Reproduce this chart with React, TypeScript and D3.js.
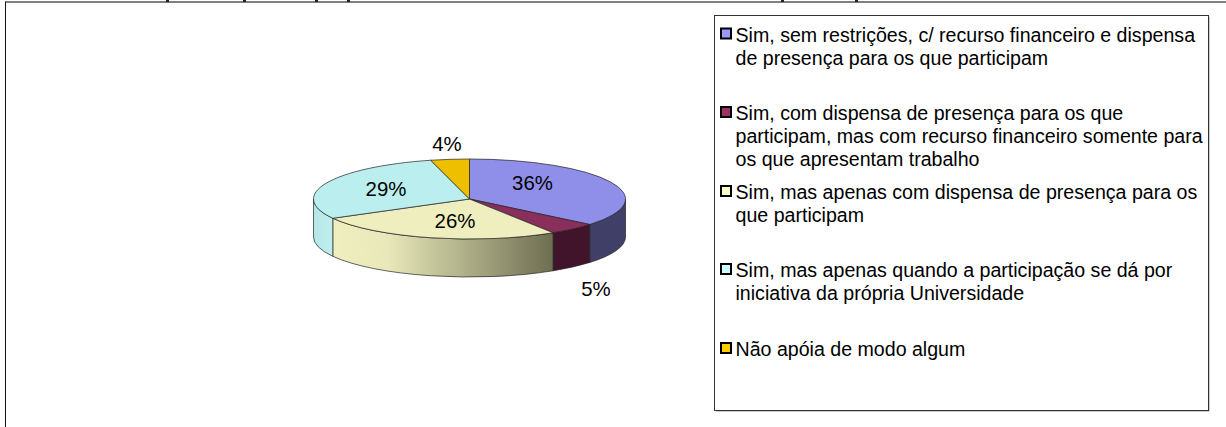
import React from 'react';
import * as d3 from 'd3';

const width = 1226;
const height = 427;

const categories = [
  'Sim, sem restrições, c/ recurso financeiro e dispensa de presença para os que participam',
  'Sim, com dispensa de presença para os que participam, mas com recurso financeiro somente para os que apresentam trabalho',
  'Sim, mas apenas com dispensa de presença para os que participam',
  'Sim, mas apenas quando a participação se dá por iniciativa da própria Universidade',
  'Não apóia de modo algum',
];
const values = [36, 5, 26, 29, 4];
const labels = ['36%', '5%', '26%', '29%', '4%'];
const legendLines = [
  ['Sim, sem restrições, c/ recurso financeiro e dispensa', 'de presença para os que participam'],
  ['Sim, com dispensa de presença para os que', 'participam, mas com recurso financeiro somente para', 'os que apresentam trabalho'],
  ['Sim, mas apenas com dispensa de presença para os', 'que participam'],
  ['Sim, mas apenas quando a participação se dá por', 'iniciativa da própria Universidade'],
  ['Não apóia de modo algum'],
];
const legendBaselines = [41.5, 120, 199, 277, 356];
const keyColors = ['#9999ff', '#993366', '#ffffcc', '#ccffff', '#ffcc00'];
const topColors = ['#8f8fe9', '#8a2e5c', '#eeeebf', '#bbeeee', '#eebe00'];
const sideColors = ['#3f3f68', '#42142b', 'url(#side26)', 'url(#side29)', '#eebe00'];
// bits of the cut-off title that stick into the frame
const titleDescenders = [166, 243, 315, 347, 781, 855];

const cx = 469.5;
const cy = 199;
const rx = 156;
const ry = 40;
const depth = 38;

const pie = d3.pie<number>().sort(null).value(d => d);
const slices = pie(values);

const px = (a: number) => cx + rx * Math.sin(a);
const py = (a: number) => cy - ry * Math.cos(a);

const topPath = (a0: number, a1: number) =>
  `M${cx},${cy}L${px(a0)},${py(a0)}A${rx},${ry} 0 ${a1 - a0 > Math.PI ? 1 : 0} 1 ${px(a1)},${py(a1)}Z`;

// only the front half of the rim is visible
const sidePath = (a0: number, a1: number) => {
  const s = Math.max(a0, Math.PI / 2);
  const e = Math.min(a1, (3 * Math.PI) / 2);
  if (e <= s) return null;
  return `M${px(s)},${py(s)}A${rx},${ry} 0 0 1 ${px(e)},${py(e)}L${px(e)},${py(e) + depth}A${rx},${ry} 0 0 0 ${px(s)},${py(s) + depth}Z`;
};

const labelPos = [
  [532.5, 190],
  [596, 296],
  [455, 228],
  [386, 196],
  [447, 151],
];

const font = '"Liberation Sans", Arial, sans-serif';

export default function App() {
  return (
    <svg
      width={width}
      height={height}
      style={{ position: 'fixed', left: 0, top: 0, background: '#fff' }}
      fontFamily={font}
    >
      <defs>
        <linearGradient id="side26" gradientUnits="userSpaceOnUse" x1={332} x2={553} y1={0} y2={0}>
          <stop offset="0" stopColor="#efefc0" />
          <stop offset="0.25" stopColor="#e8e8ba" />
          <stop offset="1" stopColor="#6e6e52" />
        </linearGradient>
        <linearGradient id="side29" gradientUnits="userSpaceOnUse" x1={314} x2={332} y1={0} y2={0}>
          <stop offset="0" stopColor="#b8e6e6" />
          <stop offset="1" stopColor="#bdeeee" />
        </linearGradient>
      </defs>

      <line x1={5} x2={width} y1={2} y2={2} stroke="#555" strokeWidth={1.6} />
      <line x1={5.5} x2={5.5} y1={2} y2={height} stroke="#111" strokeWidth={1} />
      {titleDescenders.map(x => (
        <rect key={x} x={x} y={0} width={3} height={2} fill="#222" />
      ))}

      <g stroke="#222" strokeWidth={0.7} strokeLinejoin="round">
        {slices.map((s, i) => {
          const d = sidePath(s.startAngle, s.endAngle);
          return d ? <path key={i} d={d} fill={sideColors[i]} /> : null;
        })}
        {slices.map((s, i) => (
          <path key={i} d={topPath(s.startAngle, s.endAngle)} fill={topColors[i]} />
        ))}
      </g>

      <g fontSize={20.4} fill="#000" textAnchor="middle">
        {labels.map((l, i) => (
          <text key={l} x={labelPos[i][0]} y={labelPos[i][1]}>{l}</text>
        ))}
      </g>

      <rect x={716} y={17} width={493.5} height={394.5} fill="#999" />
      <rect x={714.5} y={15.5} width={494} height={395} fill="#fff" stroke="#333" strokeWidth={1} />

      {categories.map((c, i) => (
        <g key={c}>
          <rect
            x={721}
            y={legendBaselines[i] - 13}
            width={10}
            height={10}
            fill={keyColors[i]}
            stroke="#000"
            strokeWidth={2}
          />
          <text fontSize={19.6} fill="#000">
            {legendLines[i].map((line, j) => (
              <tspan key={j} x={735.5} y={legendBaselines[i] + j * 23}>{line}</tspan>
            ))}
          </text>
        </g>
      ))}
    </svg>
  );
}
